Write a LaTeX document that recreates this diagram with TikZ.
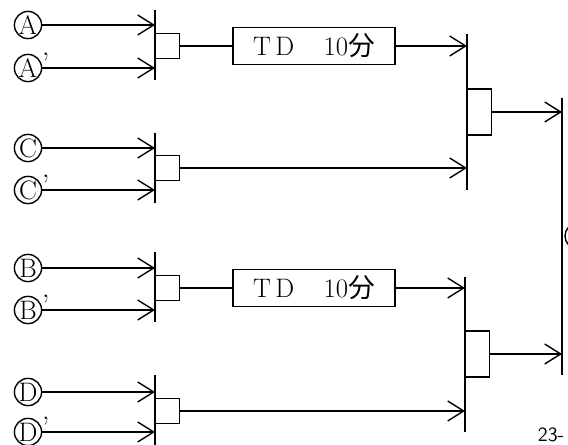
\documentclass[tikz,border=0pt]{standalone}
\usepackage{fontspec}
\newfontfamily\cjk{Noto Sans CJK JP}
\usetikzlibrary{arrows.meta,positioning}
\begin{document}
\begin{tikzpicture}[x=0.025cm,y=-0.025cm,>={Straight Barb[length=4mm,width=5mm]},line width=1pt,
  n/.style={draw,circle,inner sep=0pt,minimum size=6.8mm,font=\fontsize{19}{19}\selectfont},
  pr/.style={anchor=west,inner sep=0pt,font=\fontsize{21}{21}\selectfont},
  sb/.style={draw,anchor=west,inner sep=0pt,minimum width=6mm,minimum height=6.3mm},
  td/.style={draw,inner sep=0pt,minimum width=4.05cm,minimum height=9.2mm,font=\fontsize{19}{19}\selectfont}]
\path[use as bounding box] (0,0) rectangle (568,445);
\clip (0,0) rectangle (568,445);
% inputs
\node[n] (A) at (28,25) {A}; \node[n] (Ap) at (28,68) {A};
\node[n] (C) at (28,148) {C}; \node[n] (Cp) at (28,190) {C};
\node[n] (B) at (28,268) {B}; \node[n] (Bp) at (28,310) {B};
\node[n] (D) at (28,392) {D}; \node[n] (Dp) at (28,432) {D};
\node[pr] (Apq) at (Ap.20) {'}; \node[pr] (Cpq) at (Cp.20) {'};
\node[pr] (Bpq) at (Bp.20) {'}; \node[pr] (Dpq) at (Dp.20) {'};
% bars
\coordinate (b1t) at (155,10); \coordinate (b1b) at (155,80);
\coordinate (b2t) at (155,133); \coordinate (b2b) at (155,203);
\coordinate (b3t) at (155,252); \coordinate (b3b) at (155,322);
\coordinate (b4t) at (155,375); \coordinate (b4b) at (155,445);
\coordinate (b5t) at (467,34); \coordinate (b5b) at (467,190);
\coordinate (b6t) at (465,277); \coordinate (b6b) at (465,432);
\coordinate (b7t) at (562,98); \coordinate (b7b) at (562,375);
\foreach \i in {1,...,7} \draw (b\i t) -- (b\i b);
% first stage
\draw[->] (A) -- (A-|b1t); \draw[->] (Ap) -- (Ap-|b1t);
\draw[->] (C) -- (C-|b2t); \draw[->] (Cp) -- (Cp-|b2t);
\draw[->] (B) -- (B-|b3t); \draw[->] (Bp) -- (Bp-|b3t);
\draw[->] (D) -- (D-|b4t); \draw[->] (Dp) -- (Dp-|b4t);
\node[sb] (s1) at (155,46) {}; \node[sb] (s2) at (155,168) {};
\node[sb] (s3) at (155,288) {}; \node[sb] (s4) at (155,411) {};
\node[td] (t1) at (314,46) {T\,D\hspace{1.1em}10{\cjk 分}};
\node[td] (t2) at (314,288) {T\,D\hspace{1.1em}10{\cjk 分}};
\draw (s1) -- (t1); \draw (s3) -- (t2);
\draw[->] (t1) -- (t1-|b5t); \draw[->] (s2) -- (s2-|b5t);
\draw[->] (t2) -- (t2-|b6t); \draw[->] (s4) -- (s4-|b6t);
% second stage
\node[sb,minimum height=1.15cm] (s5) at (467,112) {};
\node[sb,minimum height=1.15cm] (s6) at (465,354) {};
\draw[->] (s5) -- (s5-|b7t); \draw[->] (s6) -- (s6-|b7t);
\draw (578,236) circle (13);
\node[anchor=south east,inner sep=0pt,font=\sffamily\Large] (pg) at (565,443) {23-};
\end{tikzpicture}
\end{document}
